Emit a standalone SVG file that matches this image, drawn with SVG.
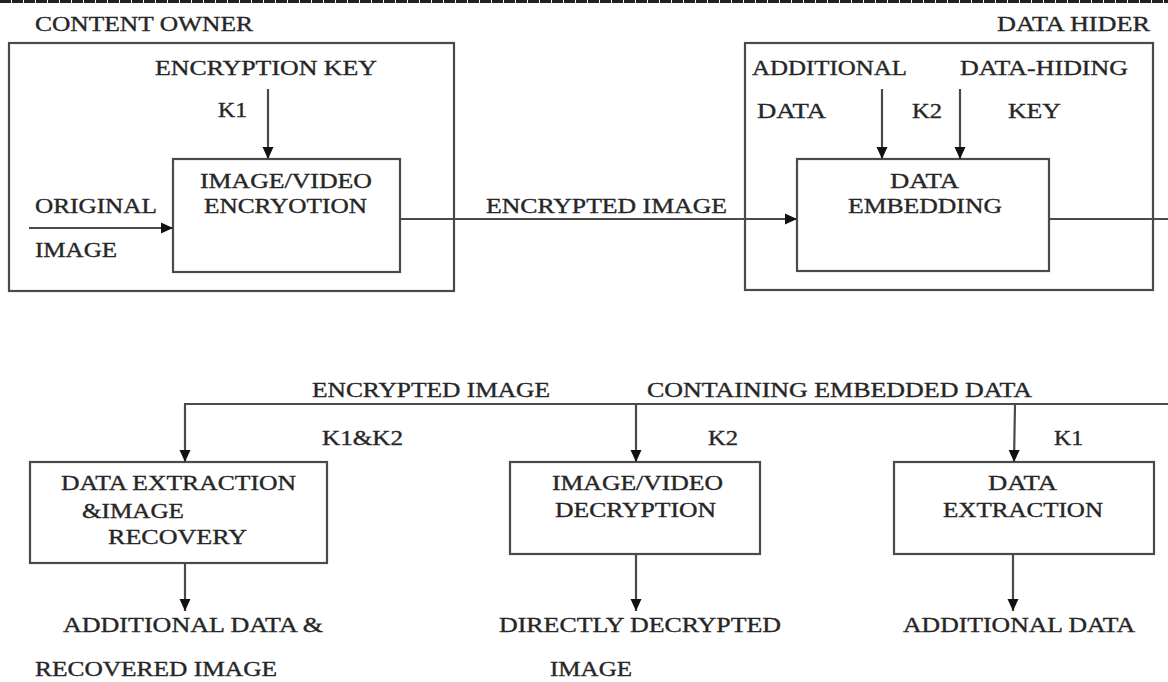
<svg xmlns="http://www.w3.org/2000/svg" width="1168" height="682" viewBox="0 0 1168 682">
  <style>
    .box { fill: none; stroke: #4a4a4a; stroke-width: 2.2; }
    .wire { fill: none; stroke: #4a4a4a; stroke-width: 2.2; }
    .lbl { font-family: "Liberation Serif", "Times New Roman", serif; font-size: 21px; fill: #262626; stroke: #262626; stroke-width: 0.35; }
  </style>
  <defs>
    <marker id="arrow" markerUnits="userSpaceOnUse" markerWidth="14" markerHeight="14" viewBox="0 0 14 14" refX="13" refY="7" orient="auto">
      <path d="M1,1.5 L13,7 L1,12.5 Z" fill="#111"/>
    </marker>
  </defs>
  <rect width="1168" height="682" fill="#ffffff"/>

  <!-- page edge -->
  <line x1="0" y1="1.5" x2="1168" y2="1.5" stroke="#222" stroke-width="3" stroke-dasharray="11 1"/>

  <!-- content owner stage -->
  <g id="content-owner">
    <rect class="box" x="9" y="43" width="445" height="248"/>
    <text class="lbl" x="35" y="31" textLength="218" lengthAdjust="spacingAndGlyphs">CONTENT OWNER</text>
    <text class="lbl" x="155" y="75" textLength="222" lengthAdjust="spacingAndGlyphs">ENCRYPTION KEY</text>
    <text class="lbl" x="218" y="117" textLength="29" lengthAdjust="spacingAndGlyphs">K1</text>
    <text class="lbl" x="35" y="213" textLength="122" lengthAdjust="spacingAndGlyphs">ORIGINAL</text>
    <text class="lbl" x="35" y="257" textLength="82" lengthAdjust="spacingAndGlyphs">IMAGE</text>
  </g>

  <g id="encryption">
    <rect class="box" x="173" y="159" width="227" height="113"/>
    <text class="lbl" x="200" y="188" textLength="172" lengthAdjust="spacingAndGlyphs">IMAGE/VIDEO</text>
    <text class="lbl" x="204" y="213" textLength="163" lengthAdjust="spacingAndGlyphs">ENCRYOTION</text>
  </g>

  <!-- data hider stage -->
  <g id="data-hider">
    <rect class="box" x="745" y="43" width="408" height="247"/>
    <text class="lbl" x="997" y="31" textLength="153" lengthAdjust="spacingAndGlyphs">DATA HIDER</text>
    <text class="lbl" x="752" y="75" textLength="155" lengthAdjust="spacingAndGlyphs">ADDITIONAL</text>
    <text class="lbl" x="960" y="75" textLength="168" lengthAdjust="spacingAndGlyphs">DATA-HIDING</text>
    <text class="lbl" x="757" y="118" textLength="69" lengthAdjust="spacingAndGlyphs">DATA</text>
    <text class="lbl" x="912" y="118" textLength="30" lengthAdjust="spacingAndGlyphs">K2</text>
    <text class="lbl" x="1008" y="118" textLength="53" lengthAdjust="spacingAndGlyphs">KEY</text>
  </g>

  <g id="embedding">
    <rect class="box" x="797" y="159" width="252" height="112"/>
    <text class="lbl" x="890" y="188" textLength="69" lengthAdjust="spacingAndGlyphs">DATA</text>
    <text class="lbl" x="848" y="213" textLength="154" lengthAdjust="spacingAndGlyphs">EMBEDDING</text>
  </g>

  <!-- receiver side -->
  <g id="extraction-recovery">
    <rect class="box" x="30" y="462" width="297" height="101"/>
    <text class="lbl" x="61" y="490" textLength="235" lengthAdjust="spacingAndGlyphs">DATA EXTRACTION</text>
    <text class="lbl" x="82" y="518" textLength="102" lengthAdjust="spacingAndGlyphs">&amp;IMAGE</text>
    <text class="lbl" x="108" y="544" textLength="139" lengthAdjust="spacingAndGlyphs">RECOVERY</text>
  </g>

  <g id="decryption">
    <rect class="box" x="510" y="462" width="250" height="92"/>
    <text class="lbl" x="552" y="490" textLength="171" lengthAdjust="spacingAndGlyphs">IMAGE/VIDEO</text>
    <text class="lbl" x="555" y="517" textLength="161" lengthAdjust="spacingAndGlyphs">DECRYPTION</text>
  </g>

  <g id="extraction">
    <rect class="box" x="894" y="462" width="260" height="92"/>
    <text class="lbl" x="988" y="490" textLength="69" lengthAdjust="spacingAndGlyphs">DATA</text>
    <text class="lbl" x="943" y="517" textLength="160" lengthAdjust="spacingAndGlyphs">EXTRACTION</text>
  </g>

  <g id="outputs">
    <text class="lbl" x="63" y="632" textLength="260" lengthAdjust="spacingAndGlyphs">ADDITIONAL DATA &amp;</text>
    <text class="lbl" x="35" y="676" textLength="242" lengthAdjust="spacingAndGlyphs">RECOVERED IMAGE</text>
    <text class="lbl" x="499" y="632" textLength="282" lengthAdjust="spacingAndGlyphs">DIRECTLY DECRYPTED</text>
    <text class="lbl" x="550" y="676" textLength="82" lengthAdjust="spacingAndGlyphs">IMAGE</text>
    <text class="lbl" x="903" y="632" textLength="232" lengthAdjust="spacingAndGlyphs">ADDITIONAL DATA</text>
  </g>

  <!-- connectors and their labels -->
  <g id="connectors">
    <line class="wire" x1="268" y1="89" x2="268" y2="159" marker-end="url(#arrow)"/>
    <line class="wire" x1="29" y1="228" x2="173" y2="228" marker-end="url(#arrow)"/>
    <line class="wire" x1="400" y1="219" x2="797" y2="219" marker-end="url(#arrow)"/>
    <line class="wire" x1="882" y1="89" x2="882" y2="159" marker-end="url(#arrow)"/>
    <line class="wire" x1="960" y1="89" x2="960" y2="159" marker-end="url(#arrow)"/>
    <line class="wire" x1="1049" y1="219" x2="1168" y2="219"/>
    <line class="wire" x1="184" y1="404" x2="1168" y2="404"/>
    <line class="wire" x1="185" y1="404" x2="185" y2="462" marker-end="url(#arrow)"/>
    <line class="wire" x1="636" y1="404" x2="636" y2="462" marker-end="url(#arrow)"/>
    <line class="wire" x1="1015" y1="404" x2="1014" y2="462" marker-end="url(#arrow)"/>
    <line class="wire" x1="185" y1="563" x2="185" y2="611" marker-end="url(#arrow)"/>
    <line class="wire" x1="636" y1="554" x2="636" y2="611" marker-end="url(#arrow)"/>
    <line class="wire" x1="1013" y1="554" x2="1013" y2="611" marker-end="url(#arrow)"/>
    <text class="lbl" x="486" y="213" textLength="241" lengthAdjust="spacingAndGlyphs">ENCRYPTED IMAGE</text>
    <text class="lbl" x="312" y="397" textLength="238" lengthAdjust="spacingAndGlyphs">ENCRYPTED IMAGE</text>
    <text class="lbl" x="647" y="397" textLength="385" lengthAdjust="spacingAndGlyphs">CONTAINING EMBEDDED DATA</text>
    <text class="lbl" x="322" y="445" textLength="81" lengthAdjust="spacingAndGlyphs">K1&amp;K2</text>
    <text class="lbl" x="708" y="445" textLength="30" lengthAdjust="spacingAndGlyphs">K2</text>
    <text class="lbl" x="1054" y="445" textLength="29" lengthAdjust="spacingAndGlyphs">K1</text>
  </g>
</svg>
